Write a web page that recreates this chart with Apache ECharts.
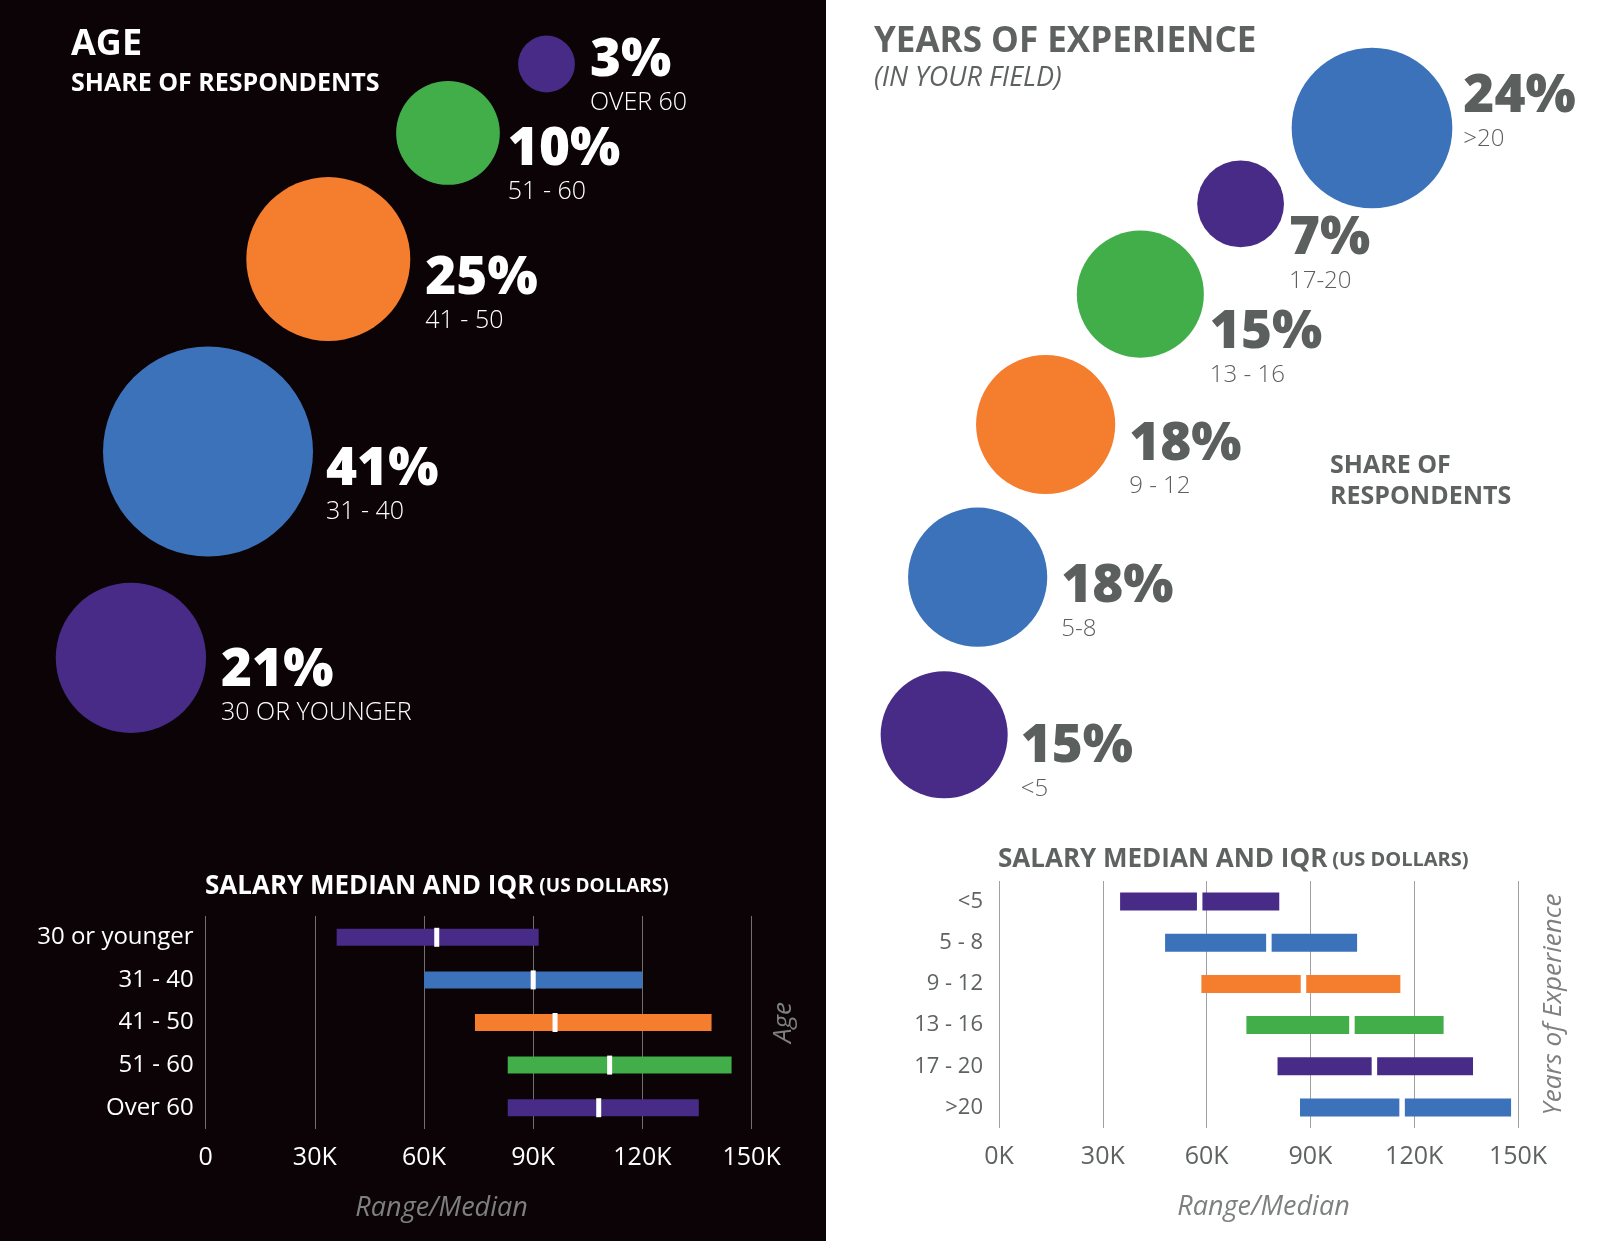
<!DOCTYPE html>
<html>
<head>
<meta charset="utf-8">
<script src="https://cdn.jsdelivr.net/npm/echarts@6/dist/echarts.min.js"></script>
<style>
  html, body { margin: 0; padding: 0; background: #fff; }
  #chart { width: 1600px; height: 1241px; }
</style>
</head>
<body>
<div id="chart"></div>
<script>
// age panel
const ageGroups = ['30 OR YOUNGER', '31 - 40', '41 - 50', '51 - 60', 'OVER 60'];
const ageShare = [21, 41, 25, 10, 3];
const ageSalaryLabels = ['30 or younger', '31 - 40', '41 - 50', '51 - 60', 'Over 60'];
const ageSalaryLow = [36, 60, 74, 83, 83];
const ageSalaryMedian = [63.5, 90, 96, 111, 108];
const ageSalaryHigh = [91.5, 120, 139, 144.5, 135.5];

// experience panel
const expGroups = ['<5', '5-8', '9 - 12', '13 - 16', '17-20', '>20'];
const expShare = [15, 18, 18, 15, 7, 24];
const expSalaryLabels = ['<5', '5 - 8', '9 - 12', '13 - 16', '17 - 20', '>20'];
const expSalaryLow = [35, 48, 58.5, 71.5, 80.5, 87];
const expSalaryMedian = [58, 78, 88, 102, 108.5, 116.5];
const expSalaryHigh = [81, 103.5, 116, 128.5, 137, 148];

const salaryTicks = [0, 30, 60, 90, 120, 150];

const purple = '#482a87';
const blue = '#3c72b9';
const orange = '#f47d2e';
const green = '#41ae4a';
const ageColors = [purple, blue, orange, green, purple];
const expColors = [purple, blue, orange, green, purple, blue];

const dark = '#0b0305';
const grayText = '#5e6260';
const axisNameGray = '#7d807e';
const font = 'Open Sans';

// bubble area is proportional to share
const radius = (p) => 16.4 * Math.sqrt(p);

// chain bubbles from the top one down-left, each one a gap away from the previous
function chainLayout(shares, anchor, gap, a0, aStep) {
	const n = shares.length;
	const pos = new Array(n);
	let x = anchor[0], y = anchor[1];
	pos[n - 1] = [x, y];
	for (let k = n - 2, s = 0; k >= 0; k--, s++) {
		const d = radius(shares[k + 1]) + radius(shares[k]) + gap;
		const a = (a0 + aStep * s) * Math.PI / 180;
		x -= d * Math.cos(a);
		y += d * Math.sin(a);
		pos[k] = [x, y];
	}
	return pos;
}

// label nudges [distance, dy] per bubble
const ageLabelShift = [[15, 33], [13, 38], [15, 40], [8, 37], [15, 17]];
const expLabelShift = [[13, 32], [14, 30], [14, 40], [6, 59], [5, 55], [11, -11]];

function bubbleData(shares, pos, colors, shift) {
	return shares.map((p, i) => ({
		value: [pos[i][0], pos[i][1], p],
		itemStyle: { color: colors[i], opacity: 1 },
		label: { distance: shift[i][0], offset: [0, shift[i][1]] }
	}));
}

function bubbleSeries(shares, groups, pos, colors, shift, textColor, subSize) {
	return {
		type: 'scatter',
		xAxisIndex: 0,
		yAxisIndex: 0,
		symbol: 'circle',
		symbolSize: (v) => 2 * radius(v[2]),
		itemStyle: { opacity: 1 },
		data: bubbleData(shares, pos, colors, shift),
		silent: true,
		label: {
			show: true,
			position: 'right',
			opacity: 1,
			formatter: (params) => `{p|${params.value[2]}%}\n{s|${groups[params.dataIndex]}}`,
			rich: {
				p: { fontFamily: font, fontSize: 53, fontWeight: 800, color: textColor, lineHeight: 44 },
				s: { fontFamily: font, fontSize: subSize, fontWeight: 300, color: textColor, lineHeight: 40 }
			}
		}
	};
}

function salaryData(low, median, high) {
	return low.map((v, i) => [i, v, median[i], high[i]]);
}

function salarySeries(gridIdx, low, median, high, colors, barH, markW) {
	return {
		type: 'custom',
		xAxisIndex: gridIdx,
		yAxisIndex: gridIdx,
		silent: true,
		encode: { x: [1, 2, 3], y: 0 },
		data: salaryData(low, median, high),
		renderItem: (params, api) => {
			const row = api.value(0);
			const a = api.coord([api.value(1), row]);
			const m = api.coord([api.value(2), row]);
			const b = api.coord([api.value(3), row]);
			return {
				type: 'group',
				children: [
					{
						type: 'rect',
						shape: { x: a[0], y: a[1] - barH / 2, width: b[0] - a[0], height: barH },
						style: { fill: colors[params.dataIndex] }
					},
					{
						type: 'rect',
						shape: { x: m[0] - markW / 2, y: m[1] - barH / 2 - 1, width: markW, height: barH + 2 },
						style: { fill: '#ffffff' }
					}
				]
			};
		}
	};
}

const agePos = chainLayout(ageShare, [546.5, 64], 40, 35, 11.5);
const expPos = chainLayout(expShare, [1372, 128], 28, 30, 12);

var myChart = echarts.init(document.getElementById('chart'), null, { renderer: 'canvas' });

const salaryTitle = (color, small) => ({
	a: { fontFamily: font, fontSize: 26, fontWeight: 'bold', color: color },
	b: { fontFamily: font, fontSize: small, fontWeight: 'bold', color: color }
});

const option = {
	animation: false,
	backgroundColor: {
		type: 'linear', x: 0, y: 0, x2: 1, y2: 0,
		colorStops: [
			{ offset: 0, color: dark },
			{ offset: 826 / 1600, color: dark },
			{ offset: 826 / 1600, color: '#ffffff' },
			{ offset: 1, color: '#ffffff' }
		]
	},
	title: [
		{ text: 'AGE', left: 66, top: 22, textStyle: { fontFamily: font, fontSize: 36, fontWeight: 'bold', color: '#fff' } },
		{ text: 'SHARE OF RESPONDENTS', left: 66, top: 66, textStyle: { fontFamily: font, fontSize: 25, fontWeight: 'bold', color: '#fff' } },
		{ text: 'YEARS OF EXPERIENCE', left: 869, top: 20, textStyle: { fontFamily: font, fontSize: 35, fontWeight: 'bold', color: grayText } },
		{ text: '(IN YOUR FIELD)', left: 869, top: 60, textStyle: { fontFamily: font, fontSize: 27, fontStyle: 'italic', fontWeight: 'normal', color: grayText } },
		{ text: 'SHARE OF\nRESPONDENTS', left: 1325, top: 445, textStyle: { fontFamily: font, fontSize: 25, fontWeight: 'bold', color: grayText, lineHeight: 31 } },
		{
			text: '{a|SALARY MEDIAN AND IQR} {b|(US DOLLARS)}', left: 200, top: 869,
			textStyle: { rich: salaryTitle('#fff', 19) }
		},
		{
			text: '{a|SALARY MEDIAN AND IQR} {b|(US DOLLARS)}', left: 993, top: 842,
			textStyle: { rich: salaryTitle(grayText, 20) }
		}
	],
	grid: [
		{ left: 0, top: 0, width: 1600, height: 1241 },
		{ left: 205.6, top: 916, width: 546, height: 213 },
		{ left: 999, top: 881, width: 519, height: 247 }
	],
	xAxis: [
		{ gridIndex: 0, type: 'value', min: 0, max: 1600, show: false },
		{
			gridIndex: 1, type: 'value', min: salaryTicks[0], max: salaryTicks[salaryTicks.length - 1], interval: 30,
			axisLine: { show: false }, axisTick: { show: false },
			splitLine: { show: true, lineStyle: { color: '#707070', width: 1 } },
			axisLabel: { color: '#fff', fontFamily: font, fontSize: 25, margin: 16, formatter: (v) => v === 0 ? '0' : v + 'K' },
			name: 'Range/Median', nameLocation: 'middle', nameGap: 66,
			nameTextStyle: { color: axisNameGray, fontFamily: font, fontSize: 27, fontStyle: 'italic', padding: [0, 74, 0, 0] }
		},
		{
			gridIndex: 2, type: 'value', min: salaryTicks[0], max: salaryTicks[salaryTicks.length - 1], interval: 30,
			axisLine: { show: false }, axisTick: { show: false },
			splitLine: { show: true, lineStyle: { color: '#a0a0a0', width: 1 } },
			axisLabel: { color: grayText, fontFamily: font, fontSize: 25, margin: 16, formatter: (v) => v + 'K' },
			name: 'Range/Median', nameLocation: 'middle', nameGap: 66,
			nameTextStyle: { color: axisNameGray, fontFamily: font, fontSize: 27, fontStyle: 'italic', padding: [0, 0, 0, 10] }
		}
	],
	yAxis: [
		{ gridIndex: 0, type: 'value', min: 0, max: 1241, inverse: true, show: false },
		{
			gridIndex: 1, type: 'category', data: ageSalaryLabels, inverse: true,
			axisLine: { show: false }, axisTick: { show: false }, splitLine: { show: false },
			axisLabel: { color: '#fff', fontFamily: font, fontSize: 24, margin: 12 }
		},
		{
			gridIndex: 2, type: 'category', data: expSalaryLabels, inverse: true,
			axisLine: { show: false }, axisTick: { show: false }, splitLine: { show: false },
			axisLabel: { color: grayText, fontFamily: font, fontSize: 22, margin: 16 }
		},
		{
			gridIndex: 1, type: 'category', position: 'right', data: ageSalaryLabels,
			axisLine: { show: false }, axisTick: { show: false }, axisLabel: { show: false },
			name: 'Age', nameLocation: 'middle', nameRotate: 90, nameGap: 19,
			nameTextStyle: { color: axisNameGray, fontFamily: font, fontSize: 26, fontStyle: 'italic' }
		},
		{
			gridIndex: 2, type: 'category', position: 'right', data: expSalaryLabels,
			axisLine: { show: false }, axisTick: { show: false }, axisLabel: { show: false },
			name: 'Years of Experience', nameLocation: 'middle', nameRotate: 90, nameGap: 23,
			nameTextStyle: { color: axisNameGray, fontFamily: font, fontSize: 26, fontStyle: 'italic' }
		}
	],
	series: [
		bubbleSeries(ageShare, ageGroups, agePos, ageColors, ageLabelShift, '#ffffff', 25),
		bubbleSeries(expShare, expGroups, expPos, expColors, expLabelShift, '#5b5f5d', 24),
		salarySeries(1, ageSalaryLow, ageSalaryMedian, ageSalaryHigh, ageColors, 17, 5),
		salarySeries(2, expSalaryLow, expSalaryMedian, expSalaryHigh, expColors, 18, 5.5)
	]
};

myChart.setOption(option);
window.onresize = () => myChart.resize();
</script>
</body>
</html>
